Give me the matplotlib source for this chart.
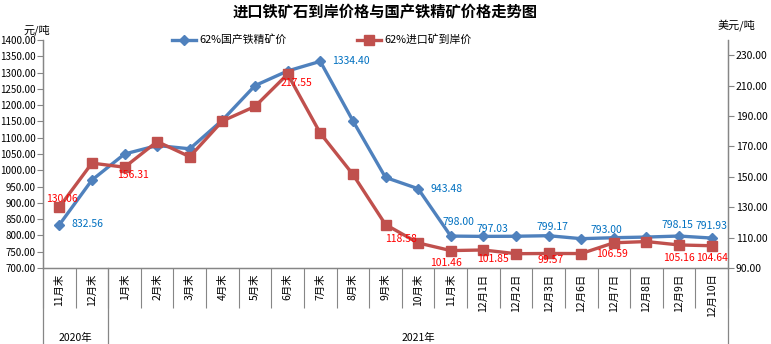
import numpy as np
import matplotlib.pyplot as plt

plt.rcParams['font.family'] = ['Noto Sans CJK SC', 'DejaVu Sans']

# categories (x axis)
categories = ["11月末", "12月末",
              "1月末", "2月末", "3月末", "4月末", "5月末", "6月末", "7月末",
              "8月末", "9月末", "10月末", "11月末",
              "12月1日", "12月2日", "12月3日", "12月6日", "12月7日", "12月8日",
              "12月9日", "12月10日"]
years = ["2020年", "2021年"]
year_sizes = [2, 19]

# 62% domestic concentrate, yuan/ton (left axis)
domestic = [832.56, 970.0, 1050.0, 1076.0, 1066.0, 1154.0, 1260.0, 1305.0, 1334.40,
            1152.0, 978.0, 943.48, 798.00, 797.03, 797.5, 799.17, 790.0, 793.00,
            795.0, 798.15, 791.93]
# 62% imported ore CIF, USD/ton (right axis)
imported = [130.06, 159.0, 156.31, 173.2, 163.2, 186.7, 196.3, 217.55, 178.7,
            151.6, 118.58, 106.5, 101.46, 101.85, 99.4, 99.57, 99.5, 106.59,
            107.4, 105.16, 104.64]

# which points get a value label, and offset in pixels
blue_labels = {0: (28, 1), 8: (31, 0), 11: (28, 0), 12: (8, 14), 13: (9, 7),
               15: (4, 9), 17: (-7, 8), 19: (-2, 11), 20: (0, 12)}
red_labels = {0: (3, 8), 2: (8, -8), 7: (9, -9), 10: (16, -14), 12: (-5, -12),
              13: (10, -9), 15: (2, -7), 17: (-2, -11), 19: (0, -13), 20: (0, -12)}

blue = '#4F81BD'
red = '#C0504D'
gray = '#868686'

fig = plt.figure(figsize=(7.71, 3.44), dpi=100)
ax = fig.add_axes([43 / 771, 1 - 268 / 344, 685 / 771, 228 / 344])
ax2 = ax.twinx()

x = np.arange(len(categories))
l1, = ax.plot(x, domestic, color=blue, lw=2.4, marker='D', ms=5.5, zorder=3,
              label='62%国产铁精矿价')
l2, = ax2.plot(x, imported, color=red, lw=2.4, marker='s', ms=7.5, zorder=3,
               label='62%进口矿到岸价')

ax.set_ylim(700, 1400)
ax.set_yticks(np.arange(700, 1401, 50))
ax.set_yticklabels([f"{v:.2f}" for v in np.arange(700, 1401, 50)], fontsize=7)
ax2.set_ylim(90, 240)
ax2.set_yticks(np.arange(90, 231, 20))
ax2.set_yticklabels([f"{v:.2f}" for v in np.arange(90, 231, 20)], fontsize=7.5)

ax.set_xlim(-0.5, len(categories) - 0.5)
ax.set_xticks(x)
ax.set_xticklabels(categories, rotation=90, fontsize=7.5, va='top')
ax.tick_params(axis='x', which='major', length=0, pad=4)
ax.set_xticks(np.arange(-0.5, len(categories), 1), minor=True)
ax.tick_params(axis='x', which='minor', length=29, color=gray, width=0.8)

for a in (ax, ax2):
    a.spines['top'].set_visible(False)
    for s in ('left', 'right', 'bottom'):
        a.spines[s].set_color(gray)
        a.spines[s].set_linewidth(0.9)
    a.tick_params(axis='y', length=4, color=gray, width=0.8, pad=1.5)

# year grouping
tr = ax.get_xaxis_transform()
start = -0.5
bounds = [start]
for n in year_sizes:
    bounds.append(bounds[-1] + n)
for b in bounds:
    ax.plot([b, b], [0, -0.34], transform=tr, color=gray, lw=0.9, clip_on=False)
for i, yr in enumerate(years):
    ax.text((bounds[i] + bounds[i + 1]) / 2, -0.307, yr, transform=tr,
            ha='center', va='center', fontsize=7.5)

# value labels
for i, (dx, dy) in blue_labels.items():
    ax.annotate(f"{domestic[i]:.2f}", (x[i], domestic[i]), xytext=(dx, dy),
                textcoords='offset pixels', ha='center', va='center',
                fontsize=7.5, color='#0070C0', zorder=5)
for i, (dx, dy) in red_labels.items():
    ax2.annotate(f"{imported[i]:.2f}", (x[i], imported[i]), xytext=(dx, dy),
                 textcoords='offset pixels', ha='center', va='center',
                 fontsize=7.5, color='#FF0000', zorder=5)

fig.text(385 / 771, 1 - 12 / 344, '进口铁矿石到岸价格与国产铁精矿价格走势图',
         ha='center', va='center', fontsize=11, fontweight='bold')
fig.text(37 / 771, 1 - 30 / 344, '元/吨', ha='center', va='center', fontsize=8)
fig.text(736 / 771, 1 - 25 / 344, '美元/吨', ha='center', va='center', fontsize=8)

fig.legend(handles=[l1, l2], loc='center', bbox_to_anchor=(322 / 771, 1 - 40 / 344),
           ncol=2, frameon=False, fontsize=7.8, handlelength=2.2,
           columnspacing=6.5, handletextpad=0.3)

fig.savefig('out.png', dpi=100)
